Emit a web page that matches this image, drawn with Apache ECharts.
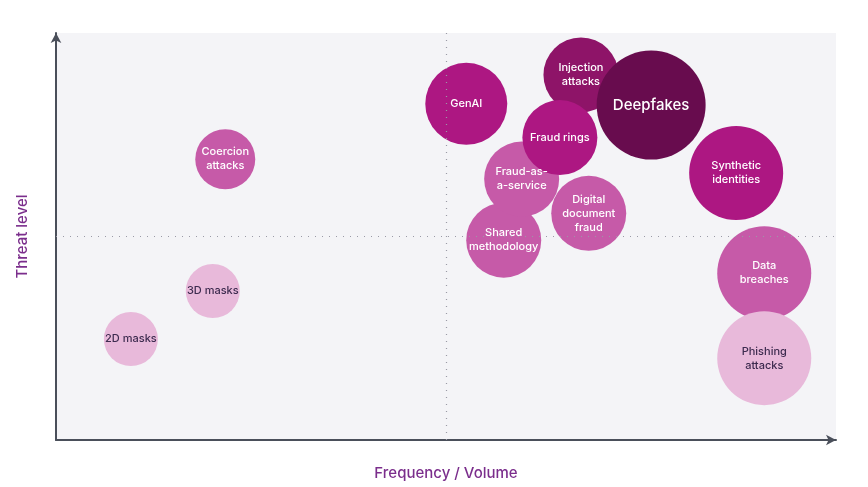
<!DOCTYPE html>
<html>
<head>
<meta charset="utf-8">
<script src="https://cdn.jsdelivr.net/npm/echarts@6/dist/echarts.min.js"></script>
<style>html,body{margin:0;padding:0;background:#fff}#c{width:868px;height:487px}</style>
</head>
<body>
<div id="c"></div>
<script>
// Draw order matters: later items overlap earlier ones
const names = ['Coercion\nattacks','3D masks','2D masks','GenAI','Shared\nmethodology','Fraud-as-\na-service','Digital\ndocument\nfraud','Injection\nattacks','Fraud rings','Deepfakes','Synthetic\nidentities','Data\nbreaches','Phishing\nattacks'];
const frequency = [21.7, 20.1, 9.6, 52.6, 57.4, 59.7, 68.3, 67.3, 64.6, 76.3, 87.2, 90.8, 90.8];
const threat = [69.0, 36.6, 24.8, 82.6, 49.1, 64.1, 55.7, 89.7, 74.3, 82.3, 65.6, 41.0, 20.1];
const impact = [60, 54, 54, 82, 75, 75, 75, 75, 75, 109, 94, 94, 94];
const tier = [3, 4, 4, 2, 3, 3, 3, 1, 2, 0, 2, 3, 4];

const tierColors = ['#680c4e', '#8e1468', '#ad1782', '#c65aa8', '#e8b9da'];
const tierText = ['#ffffff', '#ffffff', '#ffffff', '#ffffff', '#3d2b4f'];

const data = names.map((n, i) => ({
  name: n,
  value: [frequency[i], threat[i], impact[i]],
  itemStyle: { color: tierColors[tier[i]] },
  label: {
    color: tierText[tier[i]],
    fontSize: n === 'Deepfakes' ? 15 : 11,
    fontWeight: 500,
    lineHeight: n === 'Deepfakes' ? 18 : 14
  }
}));

const chart = echarts.init(document.getElementById('c'));
chart.setOption({
  animation: false,
  grid: { left: 56, right: 32, top: 33, bottom: 47, show: true, backgroundColor: '#f4f4f7', borderWidth: 0 },
  xAxis: {
    type: 'value', min: 0, max: 100,
    name: 'Frequency / Volume', nameLocation: 'middle', nameGap: 26,
    nameTextStyle: { color: '#7b2e8c', fontSize: 15, fontWeight: 500, fontFamily: 'Inter' },
    axisLine: { lineStyle: { color: '#4a4f5a', width: 2 }, symbol: ['none', 'arrow'], symbolSize: [8, 10] },
    axisTick: { show: false }, axisLabel: { show: false }, splitLine: { show: false }
  },
  yAxis: {
    type: 'value', min: 0, max: 100,
    name: 'Threat level', nameLocation: 'middle', nameGap: 26,
    nameTextStyle: { color: '#7b2e8c', fontSize: 15, fontWeight: 500, fontFamily: 'Inter' },
    axisLine: { lineStyle: { color: '#4a4f5a', width: 2 }, symbol: ['none', 'arrow'], symbolSize: [8, 10] },
    axisTick: { show: false }, axisLabel: { show: false }, splitLine: { show: false }
  },
  series: [{
    type: 'scatter',
    data: data,
    symbolSize: v => v[2],
    itemStyle: { opacity: 1 },
    label: { show: true, position: 'inside', formatter: p => p.name, fontFamily: 'Inter' },
    emphasis: { disabled: true },
    markLine: {
      silent: true, symbol: 'none', label: { show: false },
      lineStyle: { type: [1, 6], color: '#9a9aa6', width: 1.2 },
      data: [{ xAxis: 50 }, { yAxis: 50 }]
    },
    z: 3
  }]
});
</script>
</body>
</html>
